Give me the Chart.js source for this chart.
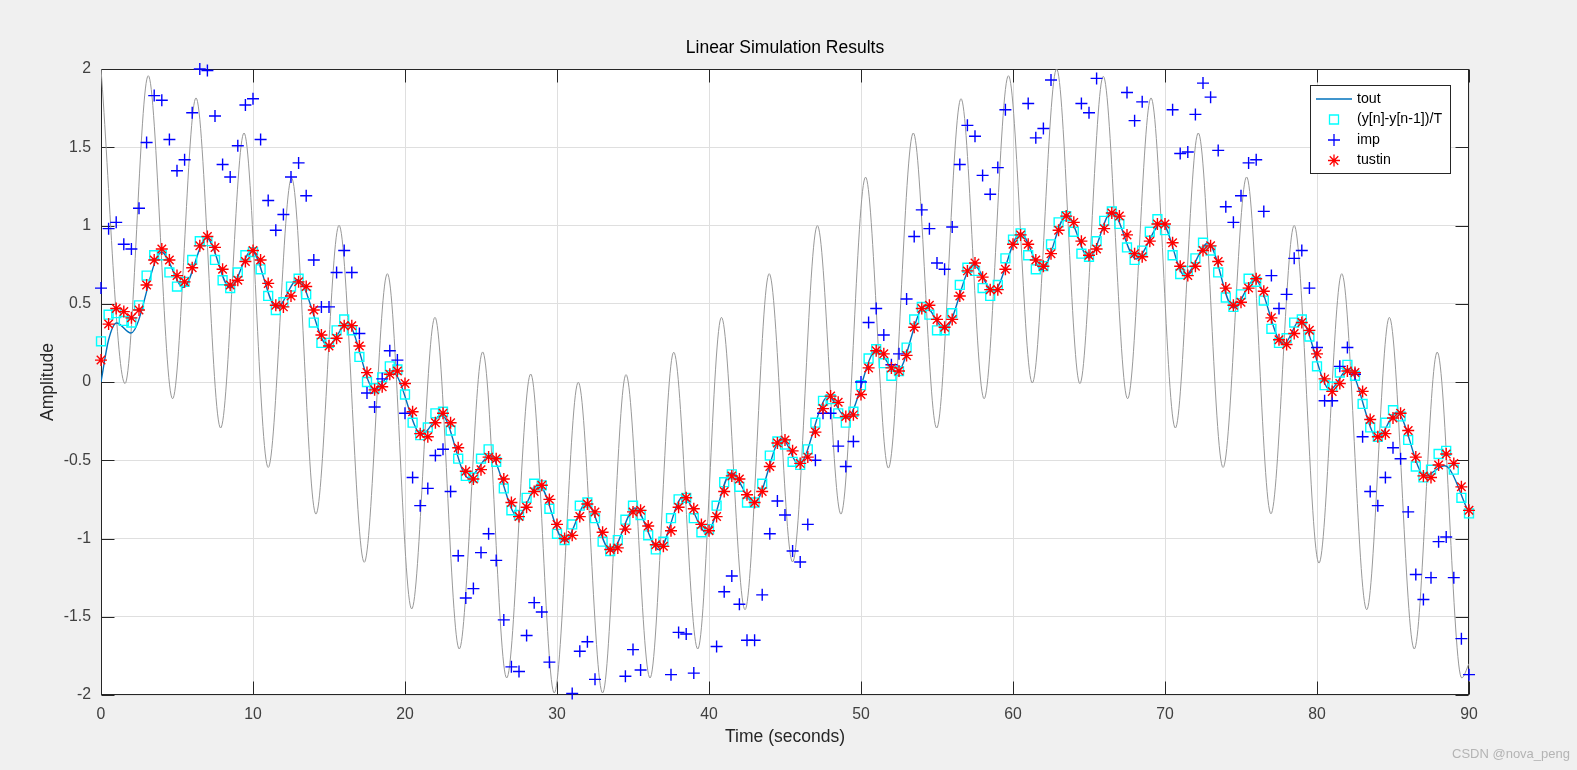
<!DOCTYPE html>
<html>
<head>
<meta charset="utf-8">
<title>Linear Simulation Results</title>
<script src="https://cdn.jsdelivr.net/npm/chart.js@4.4.1/dist/chart.umd.min.js"></script>
<style>
  html, body { margin: 0; padding: 0; background: #f0f0f0; }
  #wrap { width: 1577px; height: 770px; }
</style>
</head>
<body>
<div id="wrap"><canvas id="lsim" width="1577" height="770"></canvas></div>
<script>
// discrete responses are sampled every 0.5 s from 0 to 90 s
const sampleStep = 0.5;
const sampleCount = 181;
const sampleT = Array.from({ length: sampleCount }, (_, i) => i * sampleStep);

// (y[n]-y[n-1])/T  (cyan squares), one row = 5 s
const diffY = [
  0.26, 0.43, 0.44, 0.39, 0.38, 0.49, 0.68, 0.81, 0.81, 0.70,
  0.61, 0.64, 0.78, 0.90, 0.90, 0.78, 0.65, 0.60, 0.70, 0.81,
  0.83, 0.72, 0.55, 0.46, 0.51, 0.61, 0.66, 0.56, 0.38, 0.25,
  0.25, 0.33, 0.40, 0.33, 0.16, 0.00, -0.04, 0.03, 0.10, 0.08,
  -0.08, -0.26, -0.34, -0.29, -0.20, -0.19, -0.31, -0.49, -0.60, -0.61,
  -0.49, -0.43, -0.51, -0.68, -0.82, -0.85, -0.74, -0.65, -0.66, -0.81,
  -0.97, -1.01, -0.91, -0.79, -0.77, -0.87, -1.02, -1.08, -1.01, -0.88,
  -0.79, -0.85, -0.98, -1.07, -1.02, -0.87, -0.75, -0.74, -0.87, -0.96,
  -0.94, -0.79, -0.64, -0.59, -0.67, -0.77, -0.77, -0.65, -0.47, -0.38,
  -0.40, -0.51, -0.53, -0.43, -0.26, -0.12, -0.11, -0.20, -0.26, -0.19,
  -0.02, 0.15, 0.21, 0.12, 0.04, 0.07, 0.22, 0.40, 0.48, 0.43,
  0.33, 0.33, 0.44, 0.62, 0.73, 0.71, 0.60, 0.55, 0.62, 0.79,
  0.91, 0.95, 0.81, 0.72, 0.74, 0.88, 1.02, 1.06, 0.96, 0.82,
  0.80, 0.90, 1.03, 1.09, 1.01, 0.86, 0.78, 0.84, 0.96, 1.04,
  0.97, 0.81, 0.69, 0.71, 0.79, 0.89, 0.84, 0.70, 0.54, 0.48,
  0.56, 0.66, 0.64, 0.52, 0.34, 0.25, 0.28, 0.38, 0.40, 0.29,
  0.10, -0.02, -0.03, 0.06, 0.11, 0.04, -0.14, -0.29, -0.35, -0.26,
  -0.18, -0.22, -0.37, -0.54, -0.61, -0.56, -0.46, -0.44, -0.56, -0.74,
  -0.84
];

// imp (blue plus); points past +-2 fall outside the axes
const impY = [
  0.60, 0.98, 1.02, 0.88, 0.85, 1.11, 1.53, 1.83, 1.80, 1.55,
  1.35, 1.42, 1.72, 2.00, 1.99, 1.70, 1.39, 1.31, 1.51, 1.77,
  1.81, 1.55, 1.16, 0.97, 1.07, 1.31, 1.40, 1.19, 0.78, 0.48,
  0.48, 0.70, 0.84, 0.70, 0.31, -0.07, -0.16, 0.02, 0.20, 0.14,
  -0.20, -0.61, -0.79, -0.68, -0.47, -0.43, -0.70, -1.11, -1.38, -1.32,
  -1.09, -0.97, -1.14, -1.52, -1.82, -1.85, -1.62, -1.41, -1.47, -1.79,
  -2.18, -2.20, -1.99, -1.72, -1.66, -1.90, -2.20, -2.25, -2.20, -1.88,
  -1.71, -1.84, -2.20, -2.25, -2.20, -1.87, -1.60, -1.61, -1.86, -2.18,
  -2.15, -1.69, -1.34, -1.24, -1.42, -1.65, -1.65, -1.36, -0.97, -0.76,
  -0.85, -1.08, -1.15, -0.91, -0.50, -0.20, -0.20, -0.41, -0.54, -0.38,
  0.00, 0.38, 0.47, 0.30, 0.11, 0.18, 0.53, 0.93, 1.10, 0.98,
  0.76, 0.72, 0.99, 1.39, 1.64, 1.57, 1.32, 1.20, 1.37, 1.74,
  2.16, 2.15, 1.78, 1.56, 1.62, 1.93, 2.20, 2.25, 2.18, 1.78,
  1.72, 1.94, 2.20, 2.25, 2.18, 1.85, 1.67, 1.79, 2.16, 2.20,
  2.15, 1.74, 1.46, 1.47, 1.71, 1.91, 1.82, 1.48, 1.12, 1.02,
  1.19, 1.40, 1.42, 1.09, 0.68, 0.47, 0.56, 0.79, 0.84, 0.60,
  0.22, -0.12, -0.12, 0.10, 0.22, 0.05, -0.35, -0.70, -0.79, -0.61,
  -0.42, -0.49, -0.83, -1.23, -1.39, -1.25, -1.02, -0.99, -1.25, -1.64,
  -1.87
];

// tustin (red stars)
const tustinY = [
  0.14, 0.37, 0.47, 0.45, 0.41, 0.46, 0.62, 0.78, 0.85, 0.78,
  0.68, 0.64, 0.73, 0.87, 0.93, 0.86, 0.72, 0.62, 0.65, 0.77,
  0.84, 0.78, 0.63, 0.49, 0.48, 0.55, 0.64, 0.61, 0.46, 0.30,
  0.23, 0.28, 0.36, 0.36, 0.23, 0.06, -0.05, -0.03, 0.05, 0.07,
  -0.01, -0.19, -0.33, -0.35, -0.26, -0.20, -0.26, -0.42, -0.57, -0.62,
  -0.56, -0.48, -0.49, -0.62, -0.77, -0.86, -0.80, -0.70, -0.66, -0.75,
  -0.91, -1.00, -0.98, -0.86, -0.78, -0.83, -0.96, -1.07, -1.06, -0.94,
  -0.83, -0.82, -0.92, -1.04, -1.05, -0.95, -0.80, -0.74, -0.81, -0.91,
  -0.95, -0.86, -0.70, -0.60, -0.62, -0.72, -0.77, -0.70, -0.54, -0.39,
  -0.37, -0.44, -0.52, -0.48, -0.32, -0.17, -0.09, -0.13, -0.22, -0.21,
  -0.08, 0.09, 0.20, 0.18, 0.09, 0.07, 0.17, 0.35, 0.47, 0.49,
  0.40, 0.35, 0.40, 0.55, 0.71, 0.76, 0.67, 0.59, 0.59, 0.72,
  0.88, 0.94, 0.88, 0.78, 0.74, 0.82, 0.97, 1.06, 1.02, 0.90,
  0.81, 0.85, 0.98, 1.08, 1.06, 0.94, 0.82, 0.80, 0.90, 1.01,
  1.01, 0.89, 0.74, 0.68, 0.74, 0.84, 0.87, 0.77, 0.60, 0.49,
  0.51, 0.60, 0.66, 0.58, 0.41, 0.27, 0.24, 0.31, 0.38, 0.33,
  0.18, 0.02, -0.06, -0.01, 0.07, 0.06, -0.06, -0.24, -0.35, -0.33,
  -0.23, -0.20, -0.31, -0.48, -0.60, -0.61, -0.53, -0.46, -0.52, -0.67,
  -0.82
];

// tout: continuous response, read at its turning points
const toutT = [0, 0.5, 1.03, 1.97, 3.99, 5.42, 6.95, 8.49, 9.91, 11.56, 12.94, 14.95, 16.2, 18.0, 19.2,
  21.1, 22.4, 24.17, 25.6, 27.4, 28.8, 30.5, 31.95, 33.55, 35.13, 36.7, 38.3, 39.85, 41.45, 42.98,
  44.8, 45.9, 47.85, 49.06, 51.03, 52.35, 54.2, 55.5, 57.4, 58.7, 60.5, 61.9, 63.53, 65.0, 66.5,
  68.1, 69.8, 71.3, 72.85, 74.5, 75.9, 77.8, 78.9, 80.86, 82.06, 84.0, 85.24, 87.1, 88.4, 90];
const toutY = [0, 0.27, 0.377, 0.313, 0.829, 0.605, 0.92, 0.601, 0.839, 0.473, 0.654, 0.23, 0.375, -0.05, 0.06,
  -0.337, -0.209, -0.613, -0.471, -0.858, -0.656, -1.018, -0.773, -1.082, -0.805, -1.071, -0.731, -0.965, -0.581, -0.773,
  -0.358, -0.528, -0.092, -0.231, 0.206, 0.062, 0.487, 0.338, 0.749, 0.579, 0.952, 0.718, 1.069, 0.792, 1.09,
  0.786, 1.016, 0.679, 0.888, 0.473, 0.654, 0.238, 0.398, -0.049, 0.083, -0.358, -0.194, -0.6, -0.535, -0.837];

// input signal (gray), read at its peaks and troughs
const inputT = [0, 1.58, 3.11, 4.71, 6.25, 7.87, 9.41, 11.0, 12.54, 14.14, 15.66, 17.32, 18.84, 20.44, 21.97,
  23.57, 25.11, 26.69, 28.27, 29.82, 31.4, 33.0, 34.54, 36.12, 37.68, 39.26, 40.82, 42.37, 43.96, 45.5,
  47.13, 48.68, 50.3, 51.8, 53.44, 54.98, 56.58, 58.1, 59.7, 61.27, 62.87, 64.4, 65.94, 67.54, 69.08,
  70.68, 72.19, 73.82, 75.37, 76.97, 78.5, 80.13, 81.63, 83.27, 84.76, 86.4, 87.91, 89.52, 90];
const inputY = [2.0, -0.01, 1.957, -0.107, 1.815, -0.294, 1.591, -0.546, 1.303, -0.844, 1.001, -1.152, 0.692, -1.45, 0.413,
  -1.706, 0.192, -1.891, 0.051, -1.987, -0.002, -1.987, 0.047, -1.891, 0.19, -1.706, 0.413, -1.455, 0.692, -1.15,
  0.999, -0.844, 1.309, -0.55, 1.591, -0.294, 1.81, -0.107, 1.957, -0.006, 2.0, -0.01, 1.953, -0.107, 1.815,
  -0.294, 1.591, -0.546, 1.31, -0.842, 1.0, -1.157, 0.692, -1.455, 0.413, -1.706, 0.191, -1.891, -1.8];

const xTickStep = 10;
const yTickStep = 0.5;
const seriesNames = ['tout', '(y[n]-y[n-1])/T', 'imp', 'tustin'];

const FONT = "'Liberation Sans', Arial, Helvetica, sans-serif";
const AXIS_COLOR = '#262626';
const TICK_TEXT = '#404040';
const TOUT_COLOR = '#0072BD';

const pts = (xs, ys) => ys.map((v, i) => ({ x: xs[i], y: v }));
const markerClip = { left: 8, right: 8, top: 7, bottom: 7 };

// small marker painter for the legend
function marker(ctx, kind, x, y) {
  ctx.beginPath();
  ctx.lineWidth = 1.3;
  if (kind === 'rect') {
    ctx.strokeStyle = '#00ffff';
    ctx.rect(x - 4.5, y - 4.5, 9, 9);
  } else if (kind === 'cross') {
    ctx.strokeStyle = '#0000ff';
    ctx.moveTo(x - 6, y); ctx.lineTo(x + 6, y);
    ctx.moveTo(x, y - 6); ctx.lineTo(x, y + 6);
  } else {
    ctx.strokeStyle = '#ff0000';
    const r = 6, d = r * Math.SQRT1_2;
    ctx.moveTo(x - r, y); ctx.lineTo(x + r, y);
    ctx.moveTo(x, y - r); ctx.lineTo(x, y + r);
    ctx.moveTo(x - d, y - d); ctx.lineTo(x + d, y + d);
    ctx.moveTo(x - d, y + d); ctx.lineTo(x + d, y - d);
  }
  ctx.stroke();
}

const matlabFrame = {
  id: 'matlabFrame',
  beforeDraw(chart) {
    const { ctx, chartArea: a } = chart;
    ctx.save();
    ctx.fillStyle = '#f0f0f0';
    ctx.fillRect(0, 0, chart.width, chart.height);
    ctx.fillStyle = '#ffffff';
    ctx.fillRect(a.left, a.top, a.right - a.left, a.bottom - a.top);
    ctx.restore();
  },
  beforeDatasetsDraw(chart) {
    const { ctx, chartArea: a, scales } = chart;
    const len = 13;
    const L = Math.round(a.left) + 0.5, R = Math.round(a.right) - 0.5;
    const T = Math.round(a.top) + 0.5, B = Math.round(a.bottom) - 0.5;
    ctx.save();
    ctx.strokeStyle = AXIS_COLOR;
    ctx.lineWidth = 1;
    ctx.beginPath();
    scales.x.ticks.forEach(t => {
      const px = Math.round(scales.x.getPixelForValue(t.value)) + 0.5;
      ctx.moveTo(px, B); ctx.lineTo(px, B - len);
      ctx.moveTo(px, T); ctx.lineTo(px, T + len);
    });
    scales.y.ticks.forEach(t => {
      const py = Math.round(scales.y.getPixelForValue(t.value)) + 0.5;
      ctx.moveTo(L, py); ctx.lineTo(L + len, py);
      ctx.moveTo(R, py); ctx.lineTo(R - len, py);
    });
    ctx.stroke();
    ctx.strokeRect(L, T, R - L, B - T);
    ctx.restore();
  },
  afterDraw(chart) {
    const { ctx, chartArea: a } = chart;
    const cx = (a.left + a.right) / 2;
    ctx.save();
    ctx.textAlign = 'center';
    ctx.textBaseline = 'middle';

    ctx.fillStyle = '#000000';
    ctx.font = `17.5px ${FONT}`;
    ctx.fillText('Linear Simulation Results', cx, 48);

    ctx.fillStyle = AXIS_COLOR;
    ctx.fillText('Time (seconds)', cx, 737);
    ctx.save();
    ctx.translate(48, (a.top + a.bottom) / 2);
    ctx.rotate(-Math.PI / 2);
    ctx.fillText('Amplitude', 0, 0);
    ctx.restore();

    // legend box, upper right
    const bx = 1310.5, by = 85.5, bw = 140, bh = 88;
    ctx.fillStyle = '#ffffff';
    ctx.fillRect(bx, by, bw, bh);
    ctx.strokeStyle = AXIS_COLOR;
    ctx.lineWidth = 1;
    ctx.strokeRect(bx, by, bw, bh);
    const rows = [99, 119.5, 140, 160.5];
    ctx.strokeStyle = TOUT_COLOR;
    ctx.lineWidth = 1.3;
    ctx.beginPath();
    ctx.moveTo(1316, rows[0]); ctx.lineTo(1352, rows[0]);
    ctx.stroke();
    marker(ctx, 'rect', 1334, rows[1]);
    marker(ctx, 'cross', 1334, rows[2]);
    marker(ctx, 'star', 1334, rows[3]);
    ctx.fillStyle = '#000000';
    ctx.textAlign = 'left';
    ctx.font = `14.2px ${FONT}`;
    seriesNames.forEach((name, i) => ctx.fillText(name, 1357, rows[i]));

    // watermark
    ctx.textAlign = 'right';
    ctx.font = `13px ${FONT}`;
    ctx.fillStyle = '#b4b4b4';
    ctx.fillText('CSDN @nova_peng', 1570, 754);
    ctx.restore();
  }
};

new Chart(document.getElementById('lsim'), {
  type: 'scatter',
  data: {
    datasets: [
      {
        label: seriesNames[3],
        data: pts(sampleT, tustinY),
        pointStyle: 'star',
        pointRadius: 6,
        borderColor: '#ff0000',
        backgroundColor: '#ff0000',
        pointBorderWidth: 1.4,
        clip: markerClip,
        order: 1
      },
      {
        label: seriesNames[2],
        data: pts(sampleT, impY),
        pointStyle: 'cross',
        pointRadius: 6,
        borderColor: '#0000ff',
        backgroundColor: '#0000ff',
        pointBorderWidth: 1.4,
        clip: markerClip,
        order: 2
      },
      {
        label: seriesNames[1],
        data: pts(sampleT, diffY),
        pointStyle: 'rect',
        pointRadius: 6.3,
        borderColor: '#00ffff',
        backgroundColor: 'rgba(0,0,0,0)',
        pointBorderWidth: 1.4,
        clip: markerClip,
        order: 3
      },
      {
        label: seriesNames[0],
        data: pts(toutT, toutY),
        showLine: true,
        cubicInterpolationMode: 'monotone',
        pointRadius: 0,
        borderColor: TOUT_COLOR,
        borderWidth: 1.4,
        order: 4
      },
      {
        label: 'input',
        data: pts(inputT, inputY),
        showLine: true,
        cubicInterpolationMode: 'monotone',
        pointRadius: 0,
        borderColor: '#999999',
        borderWidth: 1,
        order: 5
      }
    ]
  },
  options: {
    responsive: false,
    animation: false,
    events: [],
    layout: { padding: { top: 69, right: 108, left: 0, bottom: 0 } },
    plugins: {
      legend: { display: false },
      tooltip: { enabled: false },
      title: { display: false }
    },
    scales: {
      x: {
        type: 'linear',
        min: 0,
        max: 90,
        afterFit: s => { s.height = 75; },
        border: { display: false },
        grid: { color: '#dfdfdf', drawTicks: false },
        ticks: {
          stepSize: xTickStep,
          maxRotation: 0,
          padding: 10,
          color: TICK_TEXT,
          font: { family: FONT, size: 15.8 }
        }
      },
      y: {
        type: 'linear',
        min: -2,
        max: 2,
        afterFit: s => { s.width = 101; },
        border: { display: false },
        grid: { color: '#dfdfdf', drawTicks: false },
        ticks: {
          stepSize: yTickStep,
          padding: 10,
          color: TICK_TEXT,
          font: { family: FONT, size: 15.8 },
          callback: v => String(v)
        }
      }
    }
  },
  plugins: [matlabFrame]
});
</script>
</body>
</html>
